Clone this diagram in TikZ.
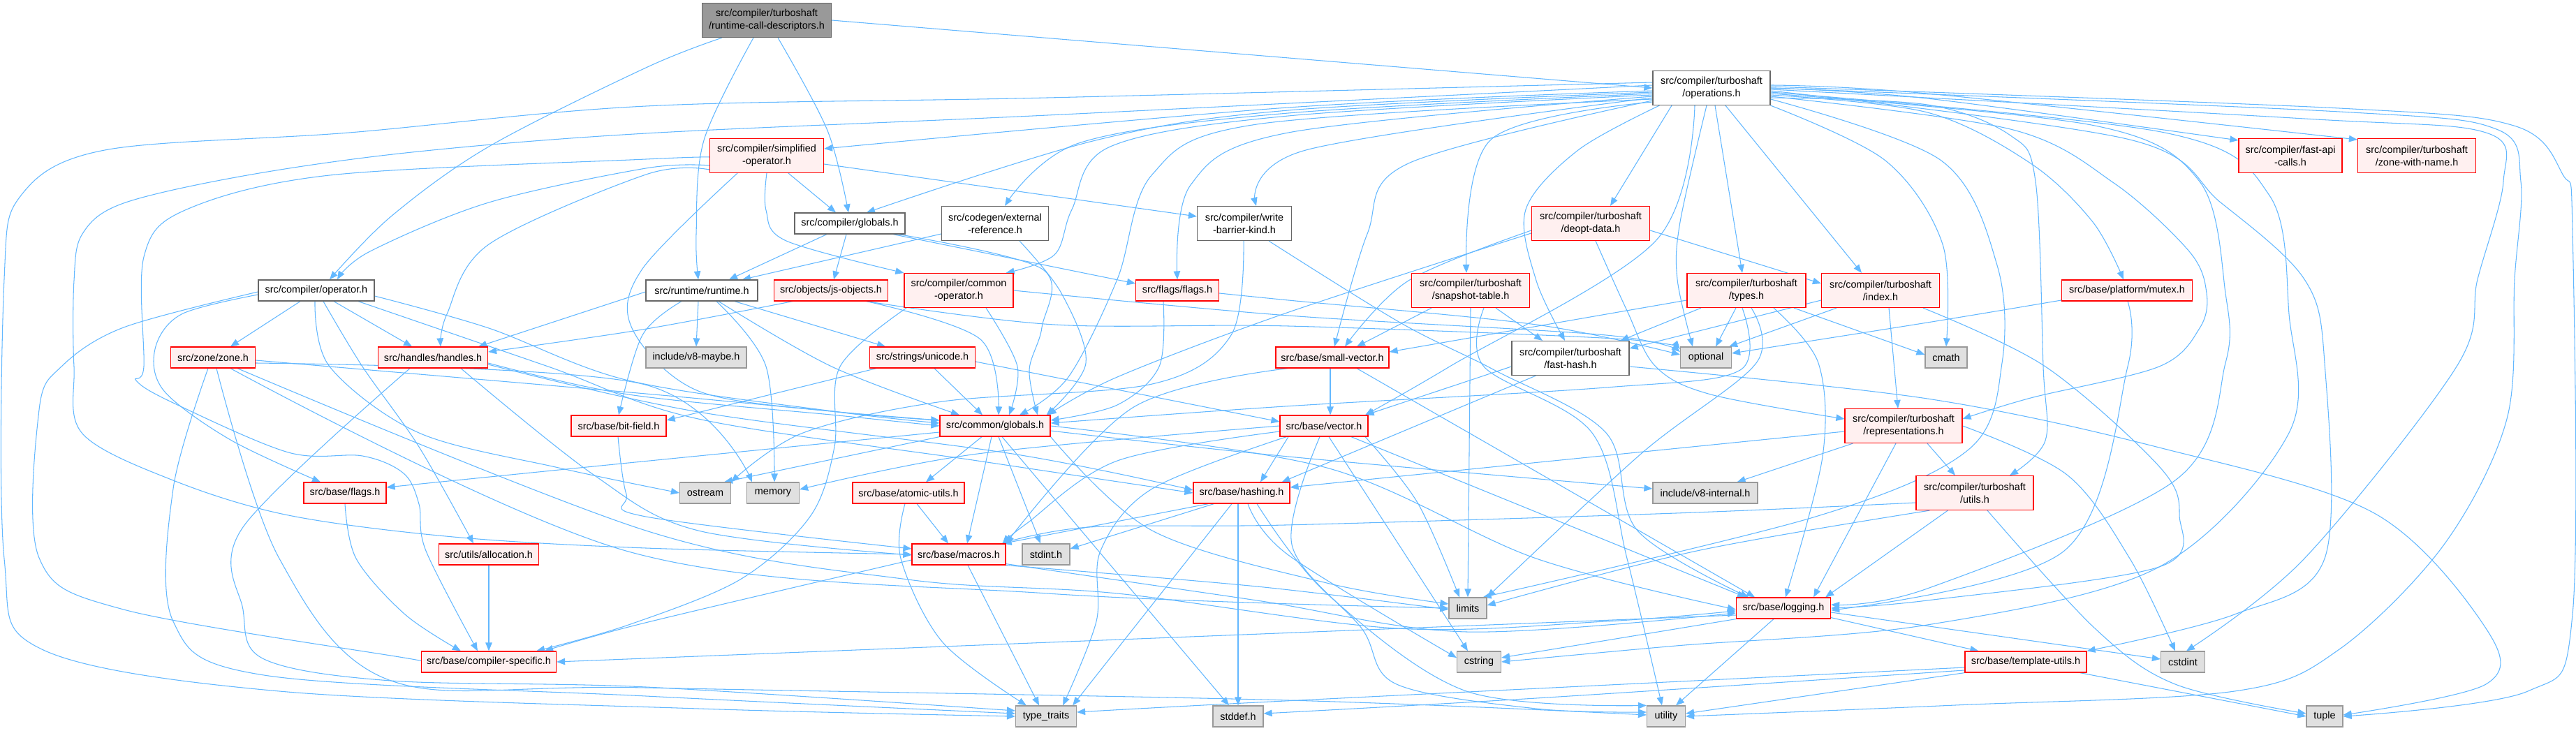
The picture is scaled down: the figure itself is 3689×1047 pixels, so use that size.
\documentclass[tikz,border=0pt]{standalone}
\usepackage{fontspec}
\setmainfont{Liberation Sans}
\usetikzlibrary{arrows.meta,calc}
\definecolor{edgec}{HTML}{63B8FF}
\definecolor{redfill}{HTML}{FFF0F0}
\definecolor{extfill}{HTML}{E0E0E0}
\definecolor{extdraw}{HTML}{999999}
\definecolor{normdraw}{HTML}{666666}
\definecolor{rootfill}{HTML}{999999}
\pgfdeclarelayer{bg}
\pgfsetlayers{bg,main}
\newcommand\Rt[1]{\draw[lnk] plot[smooth,tension=0.55] coordinates {#1};}
\tikzset{
  bx/.style={draw, rectangle, inner xsep=2pt, inner ysep=1pt, align=center,
    font=\fontsize{8.2}{10.4}\selectfont, line width=0.7pt, minimum height=0.6cm},
  two/.style={minimum height=0.98cm},
  wd/.style={minimum width=#1*0.02cm},
  wn/.style={bx, draw=normdraw, fill=white},
  rn/.style={bx, draw=red, fill=redfill},
  gn/.style={bx, draw=extdraw, fill=extfill},
  rootn/.style={bx, draw=normdraw, fill=rootfill},
  lnk/.style={draw=edgec, line width=0.6pt, -{Triangle[length=0.24cm,width=0.19cm]}},
}
\begin{document}
\begin{tikzpicture}[x=0.02cm,y=-0.02cm]
\useasboundingbox (0,0) rectangle (3689,1047);
% nodes
\node[rootn,wd=185,two] (root) at (1098,29) {src/compiler/turboshaft\\/runtime-call-descriptors.h};
\node[wn,wd=168,two] (ops) at (2451,126) {src/compiler/turboshaft\\/operations.h};
\node[rn,wd=163,two] (simp) at (1098,223) {src/compiler/simplified\\-operator.h};
\node[rn,wd=148,two] (fastapi) at (3280,223) {src/compiler/fast-api\\-calls.h};
\node[rn,wd=169,two] (zwn) at (3461,223) {src/compiler/turboshaft\\/zone-with-name.h};
\node[wn,wd=158] (cglob) at (1217,320) {src/compiler/globals.h};
\node[wn,wd=153,two] (extref) at (1425,320) {src/codegen/external\\-reference.h};
\node[wn,wd=135,two] (wbk) at (1782,320) {src/compiler/write\\-barrier-kind.h};
\node[rn,wd=169,two] (deopt) at (2278,320) {src/compiler/turboshaft\\/deopt-data.h};
\node[wn,wd=166] (cop) at (453,416) {src/compiler/operator.h};
\node[wn,wd=160] (rt) at (1005,416) {src/runtime/runtime.h};
\node[rn,wd=163] (jso) at (1190,416) {src/objects/js-objects.h};
\node[rn,wd=156,two] (comop) at (1373,416) {src/compiler/common\\-operator.h};
\node[rn,wd=119] (flags) at (1686,416) {src/flags/flags.h};
\node[rn,wd=169,two] (snap) at (2106,416) {src/compiler/turboshaft\\/snapshot-table.h};
\node[rn,wd=170,two] (types) at (2501,416) {src/compiler/turboshaft\\/types.h};
\node[rn,wd=169,two] (index) at (2693,416) {src/compiler/turboshaft\\/index.h};
\node[rn,wd=187] (mutex) at (3046,416) {src/base/platform/mutex.h};
\node[rn,wd=121] (zone) at (305,512) {src/zone/zone.h};
\node[rn,wd=157] (handles) at (620,512) {src/handles/handles.h};
\node[gn,wd=144] (maybe) at (997,512) {include/v8-maybe.h};
\node[rn,wd=151] (unicode) at (1321,512) {src/strings/unicode.h};
\node[rn,wd=162] (smallvec) at (1908,512) {src/base/small-vector.h};
\node[wn,wd=168,two] (fasthash) at (2249,513) {src/compiler/turboshaft\\/fast-hash.h};
\node[gn,wd=73] (optional) at (2443,512) {optional};
\node[gn,wd=60] (cmath) at (2787,512) {cmath};
\node[rn,wd=136] (bitfield) at (886,610) {src/base/bit-field.h};
\node[rn,wd=158] (glob) at (1425,610) {src/common/globals.h};
\node[rn,wd=126] (vector) at (1896,610) {src/base/vector.h};
\node[rn,wd=168,two] (repr) at (2726,610) {src/compiler/turboshaft\\/representations.h};
\node[rn,wd=118] (bflags) at (494,706) {src/base/flags.h};
\node[gn,wd=73] (ostream) at (1010,706) {ostream};
\node[gn,wd=75] (memory) at (1107,706) {memory};
\node[rn,wd=160] (atomic) at (1301,706) {src/base/atomic-utils.h};
\node[rn,wd=138] (hashing) at (1778,706) {src/base/hashing.h};
\node[gn,wd=150] (v8int) at (2442,706) {include/v8-internal.h};
\node[rn,wd=168,two] (tutils) at (2828,706) {src/compiler/turboshaft\\/utils.h};
\node[rn,wd=143] (alloc) at (700,794) {src/utils/allocation.h};
\node[rn,wd=134] (macros) at (1373,794) {src/base/macros.h};
\node[gn,wd=68] (stdint) at (1498,794) {stdint.h};
\node[gn,wd=54] (limits) at (2102,871) {limits};
\node[rn,wd=135] (logging) at (2554,871) {src/base/logging.h};
\node[rn,wd=193] (cspec) at (700,948) {src/base/compiler-specific.h};
\node[gn,wd=63] (cstring) at (2118,948) {cstring};
\node[rn,wd=174] (tutil) at (2901,948) {src/base/template-utils.h};
\node[gn,wd=63] (cstdint) at (3126,948) {cstdint};
\node[gn,wd=87] (typetraits) at (1498,1026) {type\_traits};
\node[gn,wd=72] (stddef) at (1773,1026) {stddef.h};
\node[gn,wd=55] (utility) at (2386,1026) {utility};
\node[gn,wd=52] (tuple) at (3329,1026) {tuple};
\begin{pgfonlayer}{bg}
\fill[white] (0,0) rectangle (3689,1047);
% root
\draw[lnk] (root.east) -- (ops.west);
\Rt{($(root.south)+(-64,0)$) (925,97) (700,210) (560,310) ($(cop.north)+(19,0)$)}
\Rt{($(root.south)+(-19,0)$) (1008,201) (997,335) ($(rt.north)+(-5,0)$)}
\Rt{($(root.south)+(16,0)$) (1185,187) ($(cglob.north)+(-2,0)$)}
% operations, left side
\Rt{($(ops.west)+(0,4)$) (1845,154) ($(simp.east)+(0,-10)$)}
\Rt{($(ops.west)+(0,6)$) (1845,158) (1569,201) ($(cglob.north)+(24,0)$)}
\Rt{($(ops.west)+(0,8)$) (1845,162) (1545,205) ($(extref.north)+(14,0)$)}
\Rt{($(ops.west)+(0,10)$) (1845,166) (1590,210) (1535,300) (1510,365) ($(comop.north east)+(-11,0)$)}
\Rt{($(ops.west)+(0,12)$) (1845,190) (1705,265) (flags.north)}
\Rt{($(ops.west)+(0,14)$) (1870,215) ($(wbk.north)+(17,0)$)}
\Rt{($(ops.west)+(0,16)$) (1800,178) (1650,250) (1600,400) (1530,540) ($(glob.north)+(35,0)$)}
\Rt{($(ops.west)+(0,18)$) (2017,234) (1958,335) ($(smallvec.north)+(3,0)$)}
\Rt{($(ops.west)+(0,20)$) (2135,200) ($(snap.north)+(-6,0)$)}
\Rt{($(ops.south west)+(10,0)$) (2260,215) (2185,300) (2200,402) ($(fasthash.north)+(-8,0)$)}
\draw[lnk] ($(ops.south)+(-57,0)$) -- ($(deopt.north)+(28,0)$);
\Rt{($(ops.south)+(-24,0)$) (2371,345) (2076,525) ($(vector.north)+(59,0)$)}
\Rt{($(ops.south)+(-7,0)$) (2406,318) (2402,400) ($(optional.north)+(-19,0)$)}
\draw[lnk] ($(ops.south)+(5,0)$) -- ($(types.north)+(-6,0)$);
\draw[lnk] ($(ops.south)+(20,0)$) -- ($(index.north)+(-27,0)$);
\Rt{(ops.south east) (2700,230) (2782,350) (cmath.north)}
% operations, right side
\Rt{($(ops.east)+(0,10)$) (2760,161) (2908,234) (2997,318) ($(mutex.north)+(-5,0)$)}
\Rt{(ops.east) (2760,141) ($(fastapi.west)+(0,-22)$)}
\Rt{($(ops.east)+(0,-4)$) (2760,134) ($(zwn.west)+(0,-23)$)}
\Rt{($(ops.east)+(0,14)$) (2760,150) (2879,194) (2915,260) (2926,525) (2929,631) ($(tutils.north)+(50,0)$)}
\Rt{($(ops.east)+(0,12)$) (2879,185) (3027,262) (3135,360) (3160,420) (3150,470) (3092,525) (2908,570) ($(repr.east)+(0,-10)$)}
\Rt{($(ops.east)+(0,8)$) (3000,180) (3150,260) (3187,420) (3187,520) (3115,688) (2760,843) ($(logging.east)+(0,-5)$)}
\Rt{($(ops.east)+(0,16)$) (2780,230) (2860,380) (2867,520) (2819,644) (2600,740) ($(limits.north east)+(-6,0)$)}
\Rt{($(ops.east)+(0,6)$) (3100,190) (3250,280) (3278,450) (3278,620) (3092,812) (2760,895) (2400,925) (cstring.east)}
\Rt{($(ops.east)+(0,4)$) (3050,200) (3180,290) (3300,400) (3329,520) (3329,800) (3200,880) (tutil.north east)}
\Rt{($(ops.east)+(0,2)$) (3300,170) (3560,190) (3585,260) (3548,400) (3518,525) (3300,800) ($(cstdint.north)+(5,0)$)}
\Rt{(ops.east) (3350,160) (3575,185) (3610,260) (3601,400) (3590,600) (3500,780) (3350,930) (3200,990) (2800,1010) (utility.east)}
\Rt{($(ops.east)+(0,-2)$) (3350,155) (3600,180) (3670,250) (3684,330) (3684,880) (3620,990) (tuple.east)}
% operations, far left
\Rt{($(ops.west)+(0,-8)$) (1500,140) (925,152) (500,190) (150,215) (30,280) (6,400) (6,800) (60,930) (400,990) (1000,1015) (typetraits.west)}
\Rt{($(ops.west)+(0,-4)$) (1500,165) (925,191) (590,218) (354,251) (177,291) (118,335) (106,402) (106,525) (118,621) (248,688) (413,738) (649,769) (925,785) (macros.west)}
% simplified-operator
\Rt{($(simp.west)+(0,14)$) (925,241) (700,290) (530,360) ($(cop.north)+(30,0)$)}
\Rt{($(simp.west)+(0,20)$) (925,250) (700,350) (640,450) ($(handles.north)+(11,0)$)}
\draw[lnk] ($(simp.south)+(31,0)$) -- ($(cglob.north)+(-20,0)$);
\Rt{(simp.south) (1097,301) (1126,345) (comop.north west)}
\draw[lnk] ($(simp.east)+(0,12)$) -- ($(wbk.west)+(0,-10)$);
\Rt{($(simp.south)+(-42,0)$) (920,385) (905,470) (1000,560) (1200,590) ($(glob.west)+(0,-8)$)}
\Rt{($(simp.west)+(0,2)$) (925,228) (472,251) (265,301) (206,368) (206,525) (195,545) (248,577) (413,648) (519,653) (578,678) (600,722) (610,789) ($(cspec.north)+(-16,0)$)}
% compiler/globals
\draw[lnk] ($(cglob.south)+(-33,0)$) -- ($(rt.north)+(39,0)$);
\draw[lnk] ($(cglob.south)+(-5,0)$) -- ($(jso.north)+(4,0)$);
\draw[lnk] ($(cglob.south)+(62,0)$) -- ($(flags.west)+(0,-10)$);
\Rt{($(cglob.south east)+(-10,0)$) (1492,385) (1492,469) (1474,530) ($(glob.north)+(61,0)$)}
% external-reference
\draw[lnk] ($(extref.west)+(0,15)$) -- ($(rt.north)+(58,0)$);
\Rt{($(extref.south)+(35,0)$) (1520,420) (1555,520) ($(glob.north east)+(-6,0)$)}
% write-barrier-kind
\Rt{($(wbk.south)+(-1,0)$) (1763,480) (1650,550) (1350,575) (1150,620) (ostream.north east)}
\Rt{($(wbk.south)+(35,0)$) (2005,462) (2140,530) (2300,620) (2345,760) ($(logging.north)+(-50,0)$)}
% deopt-data
\draw[lnk] ($(deopt.east)+(0,10)$) -- ($(index.west)+(0,-10)$);
\Rt{($(deopt.west)+(0,10)$) (2017,402) ($(smallvec.north)+(18,0)$)}
\Rt{($(deopt.west)+(0,14)$) (1840,449) (1600,540) ($(glob.north east)+(-4,0)$)}
\Rt{($(deopt.south)+(7,0)$) (2330,445) (2371,525) (2450,565) ($(repr.west)+(0,-10)$)}
% compiler/operator
\draw[lnk] ($(cop.south)+(-23,0)$) -- ($(zone.north)+(25,0)$);
\draw[lnk] ($(cop.south)+(25,0)$) -- ($(handles.north)+(-30,0)$);
\Rt{($(cop.south)+(-2,0)$) (472,525) (600,620) (800,670) (ostream.west)}
\Rt{($(cop.south)+(10,0)$) (519,525) (600,640) ($(alloc.north)+(-22,0)$)}
\Rt{($(cop.south)+(60,0)$) (785,525) (1000,600) (1400,660) (hashing.west)}
\Rt{($(cop.east)+(0,8)$) (700,470) (900,545) (1200,590) ($(glob.west)+(0,-4)$)}
\Rt{($(cop.west)+(0,6)$) (260,450) (222,500) (235,560) (330,630) ($(bflags.north)+(-35,0)$)}
\Rt{($(cop.west)+(0,2)$) (177,469) (88,525) (56,587) (56,799) (177,873) (590,944) (cspec.west)}
% runtime
\draw[lnk] ($(rt.south)+(-5,0)$) -- (maybe.north);
\draw[lnk] ($(rt.south)+(47,0)$) -- ($(unicode.north)+(-53,0)$);
\draw[lnk] ($(rt.west)+(0,2)$) -- ($(handles.north east)+(-14,0)$);
\Rt{($(rt.south)+(-29,0)$) (920,480) (bitfield.north)}
\Rt{($(rt.south)+(21,0)$) (1097,525) ($(memory.north)+(2,0)$)}
\Rt{($(rt.south)+(24,0)$) (1191,525) ($(glob.north)+(-51,0)$)}
% js-objects
\Rt{($(jso.south)+(-55,0)$) (920,472) ($(handles.east)+(0,-8)$)}
\Rt{($(jso.south)+(51,0)$) (1404,486) ($(glob.north)+(5,0)$)}
\Rt{($(jso.south)+(51,0)$) (1510,465) (1845,467) (2312,485) ($(optional.west)+(0,-12)$)}
% common-operator
\Rt{($(comop.south)+(-75,0)$) (1203,525) (1195,640) (1160,740) (1060,830) (900,895) ($(cspec.north east)+(-29,0)$)}
\Rt{($(comop.south)+(39,0)$) (1457,525) ($(glob.north)+(20,0)$)}
\Rt{(comop.east) (1845,452) (2300,480) ($(optional.west)+(0,-8)$)}
% flags
\Rt{($(flags.south)+(-20,0)$) (1660,525) (1600,580) ($(glob.east)+(0,-8)$)}
\Rt{($(flags.east)+(0,4)$) (1845,430) (2200,465) ($(optional.west)+(0,-4)$)}
% snapshot-table
\draw[lnk] ($(snap.south)+(-56,0)$) -- ($(smallvec.north)+(35,0)$);
\draw[lnk] (snap.south) -- (limits.north);
\draw[lnk] ($(snap.south)+(36,0)$) -- ($(fasthash.north)+(-40,0)$);
\Rt{($(snap.south)+(19,0)$) (2125,525) (2280,620) (2330,800) ($(utility.north)+(-6,0)$)}
% types
\draw[lnk] ($(types.west)+(0,14)$) -- ($(smallvec.east)+(0,-8)$);
\draw[lnk] ($(types.south)+(-65,0)$) -- ($(fasthash.north east)+(-13,0)$);
\draw[lnk] ($(types.south)+(-15,0)$) -- ($(optional.north)+(14,0)$);
\draw[lnk] ($(types.south)+(68,0)$) -- ($(cmath.west)+(0,-4)$);
\Rt{($(types.south)+(7,0)$) (2515,520) (2350,650) (limits.north east)}
\Rt{($(types.south)+(39,0)$) (2604,520) (2610,654) ($(logging.north)+(3,0)$)}
\Rt{($(types.south)+(-6,0)$) (2492,530) (2300,555) (1840,582) ($(glob.east)+(0,-4)$)}
% index
\draw[lnk] ($(index.west)+(0,14)$) -- ($(fasthash.east)+(0,-14)$);
\draw[lnk] ($(index.south)+(-63,0)$) -- ($(optional.north east)+(-4,0)$);
\draw[lnk] ($(index.south)+(12,0)$) -- ($(repr.north)+(-8,0)$);
\Rt{($(index.south)+(61,0)$) (2929,525) (3092,668) (3121,738) (3092,812) (2760,860) (logging.east)}
% mutex
\Rt{($(mutex.west)+(0,14)$) (2760,462) ($(optional.east)+(0,-6)$)}
\Rt{($(mutex.south)+(1,0)$) (3047,525) (2956,789) ($(logging.east)+(0,3)$)}
% zone
\Rt{($(zone.east)+(0,4)$) (925,564) (1200,590) ($(glob.west)+(0,-8)$)}
\Rt{($(zone.south)+(35,0)$) (925,760) (1300,830) (1600,850) (2000,900) (2300,890) ($(logging.west)+(0,4)$)}
\Rt{($(zone.south)+(25,0)$) (900,790) (1500,850) (limits.west)}
\Rt{($(zone.east)+(0,8)$) (920,550) ($(memory.north)+(-30,0)$)}
\Rt{($(zone.south)+(-7,0)$) (248,700) (248,890) (378,967) (925,997) ($(typetraits.west)+(0,-4)$)}
\Rt{($(zone.south)+(5,0)$) (400,800) (560,975) (925,985) (1845,1003) ($(utility.west)+(0,-2)$)}
% handles
\Rt{($(handles.east)+(0,8)$) (900,565) (1200,595) (glob.west)}
\Rt{($(handles.south)+(40,0)$) (850,680) (1000,760) ($(macros.west)+(0,1)$)}
\Rt{($(handles.south)+(-33,0)$) (348,755) (348,873) (378,944) (560,975) (925,984) ($(typetraits.west)+(0,-8)$)}
\Rt{($(handles.east)+(0,10)$) (1000,590) (1450,650) ($(hashing.west)+(0,-4)$)}
% unicode
\draw[lnk] ($(unicode.south west)+(10,0)$) -- ($(bitfield.east)+(0,-8)$);
\draw[lnk] ($(unicode.south)+(17,0)$) -- ($(glob.north)+(-18,0)$);
\draw[lnk] ($(unicode.east)+(0,6)$) -- ($(vector.west)+(0,-6)$);
% small-vector
\draw[lnk] ($(smallvec.south)+(-3,0)$) -- ($(vector.north)+(9,0)$);
\draw[lnk] ($(smallvec.south)+(35,0)$) -- ($(logging.north)+(-41,0)$);
\Rt{($(smallvec.south west)+(18,0)$) (1622,584) (macros.north east)}
% vector
\draw[lnk] ($(vector.south)+(-51,0)$) -- ($(hashing.north)+(27,0)$);
\draw[lnk] ($(vector.south)+(39,0)$) -- ($(logging.north)+(-54,0)$);
\Rt{($(vector.west)+(0,8)$) (1600,660) (1470,750) ($(macros.north east)+(-5,0)$)}
\Rt{($(vector.south)+(59,0)$) (2030,720) ($(limits.north)+(-12,0)$)}
\draw[lnk] ($(vector.south)+(7,0)$) -- ($(cstring.north)+(-16,0)$);
\Rt{(vector.west) (1400,650) ($(memory.east)+(0,-5)$)}
\Rt{($(vector.south)+(-6,0)$) (1850,780) (1950,900) (2000,980) (2200,1015) ($(utility.west)+(0,-6)$)}
\Rt{($(vector.south west)+(10,0)$) (1650,700) (1576,789) (1570,890) ($(typetraits.north east)+(-20,0)$)}
% fast-hash
\draw[lnk] ($(fasthash.south west)+(35,0)$) -- ($(hashing.north east)+(-12,0)$);
\draw[lnk] ($(fasthash.west)+(0,12)$) -- ($(vector.north east)+(-4,0)$);
\Rt{($(fasthash.east)+(0,12)$) (2760,571) (3092,641) (3400,735) (3560,900) (3560,980) ($(tuple.east)+(0,-2)$)}
% representations
\draw[lnk] ($(repr.west)+(0,8)$) -- ($(hashing.east)+(0,-8)$);
\draw[lnk] ($(repr.south west)+(12,0)$) -- ($(v8int.north east)+(-30,0)$);
\draw[lnk] ($(repr.south)+(-11,0)$) -- ($(logging.north east)+(-25,0)$);
\draw[lnk] ($(repr.south)+(34,0)$) -- ($(tutils.north)+(-28,0)$);
\Rt{(repr.east) (2960,680) (3050,800) ($(cstdint.north)+(-11,0)$)}
% turboshaft utils
\Rt{($(tutils.west)+(0,14)$) (2400,735) (1840,752) (1560,755) ($(macros.north east)+(-6,0)$)}
\Rt{($(tutils.south west)+(20,0)$) (2430,789) ($(limits.east)+(0,-4)$)}
\draw[lnk] ($(tutils.south west)+(46,0)$) -- ($(logging.north east)+(-8,0)$);
\Rt{($(tutils.south)+(18,0)$) (3000,900) (3115,980) ($(tuple.west)+(0,-4)$)}
% common/globals
\Rt{($(glob.west)+(0,9)$) (920,661) ($(bflags.east)+(0,-8)$)}
\draw[lnk] (glob.south west) -- ($(ostream.north east)+(-10,0)$);
\draw[lnk] ($(glob.south)+(-19,0)$) -- ($(atomic.north)+(25,0)$);
\draw[lnk] ($(glob.south)+(-5,0)$) -- ($(macros.north)+(12,0)$);
\draw[lnk] ($(glob.south)+(5,0)$) -- ($(stdint.north)+(-8,0)$);
\draw[lnk] ($(glob.south)+(10,0)$) -- ($(stddef.north)+(-13,0)$);
\Rt{($(glob.east)+(0,7)$) (1845,654) ($(v8int.west)+(0,-6)$)}
\Rt{(glob.south east) (1650,760) (1900,835) ($(limits.west)+(0,-6)$)}
\Rt{(glob.east) (1900,670) (2200,800) ($(logging.west)+(0,2)$)}
% bit-field
\Rt{($(bitfield.south)+(-1,0)$) (897,708) (925,740) ($(macros.west)+(0,-8)$)}
% atomic-utils
\draw[lnk] ($(atomic.south)+(12,0)$) -- ($(macros.north)+(-15,0)$);
\Rt{($(atomic.south)+(-5,0)$) (1290,800) (1350,920) ($(typetraits.north west)+(16,0)$)}
% hashing
\draw[lnk] ($(hashing.south west)+(22,0)$) -- ($(macros.north east)+(-4,0)$);
\draw[lnk] ($(hashing.south west)+(30,0)$) -- ($(stdint.east)+(0,-8)$);
\draw[lnk] ($(hashing.south)+(-14,0)$) -- ($(typetraits.north east)+(-6,0)$);
\draw[lnk] ($(hashing.south)+(-5,0)$) -- (stddef.north);
\Rt{($(hashing.south)+(9,0)$) (1845,795) ($(cstring.west)+(0,-6)$)}
\Rt{($(hashing.south)+(22,0)$) (1900,850) (2100,990) (utility.north west)}
% macros
\Rt{($(macros.west)+(0,8)$) (920,893) ($(cspec.north east)+(-17,0)$)}
\draw[lnk] ($(macros.south)+(13,0)$) -- ($(typetraits.north)+(-10,0)$);
\Rt{(macros.south east) (1800,840) ($(limits.west)+(0,2)$)}
\Rt{($(macros.south east)+(0,-2)$) (1800,860) (2100,905) ($(logging.west)+(0,7)$)}
% allocation, base/flags
\draw[lnk] (alloc.south) -- (cspec.north);
\Rt{(bflags.south) (510,800) (580,880) ($(cspec.north west)+(57,0)$)}
% logging
\draw[lnk] ($(logging.west)+(0,10)$) -- (cspec.east);
\draw[lnk] (logging.south west) -- ($(cstring.east)+(0,-6)$);
\draw[lnk] ($(logging.south)+(-14,0)$) -- ($(utility.north)+(14,0)$);
\draw[lnk] ($(logging.east)+(0,6)$) -- ($(cstdint.west)+(0,-4)$);
\draw[lnk] ($(logging.south east)+(0,-2)$) -- ($(tutil.north west)+(20,0)$);
% template-utils
\Rt{($(tutil.west)+(0,8)$) (1840,1004) ($(typetraits.east)+(0,-6)$)}
\Rt{($(tutil.west)+(0,12)$) (2200,1000) ($(stddef.east)+(0,-4)$)}
\draw[lnk] (tutil.south west) -- ($(utility.east)+(0,-4)$);
\draw[lnk] ($(tutil.south east)+(-10,0)$) -- (tuple.west);
\end{pgfonlayer}
\end{tikzpicture}
\end{document}
